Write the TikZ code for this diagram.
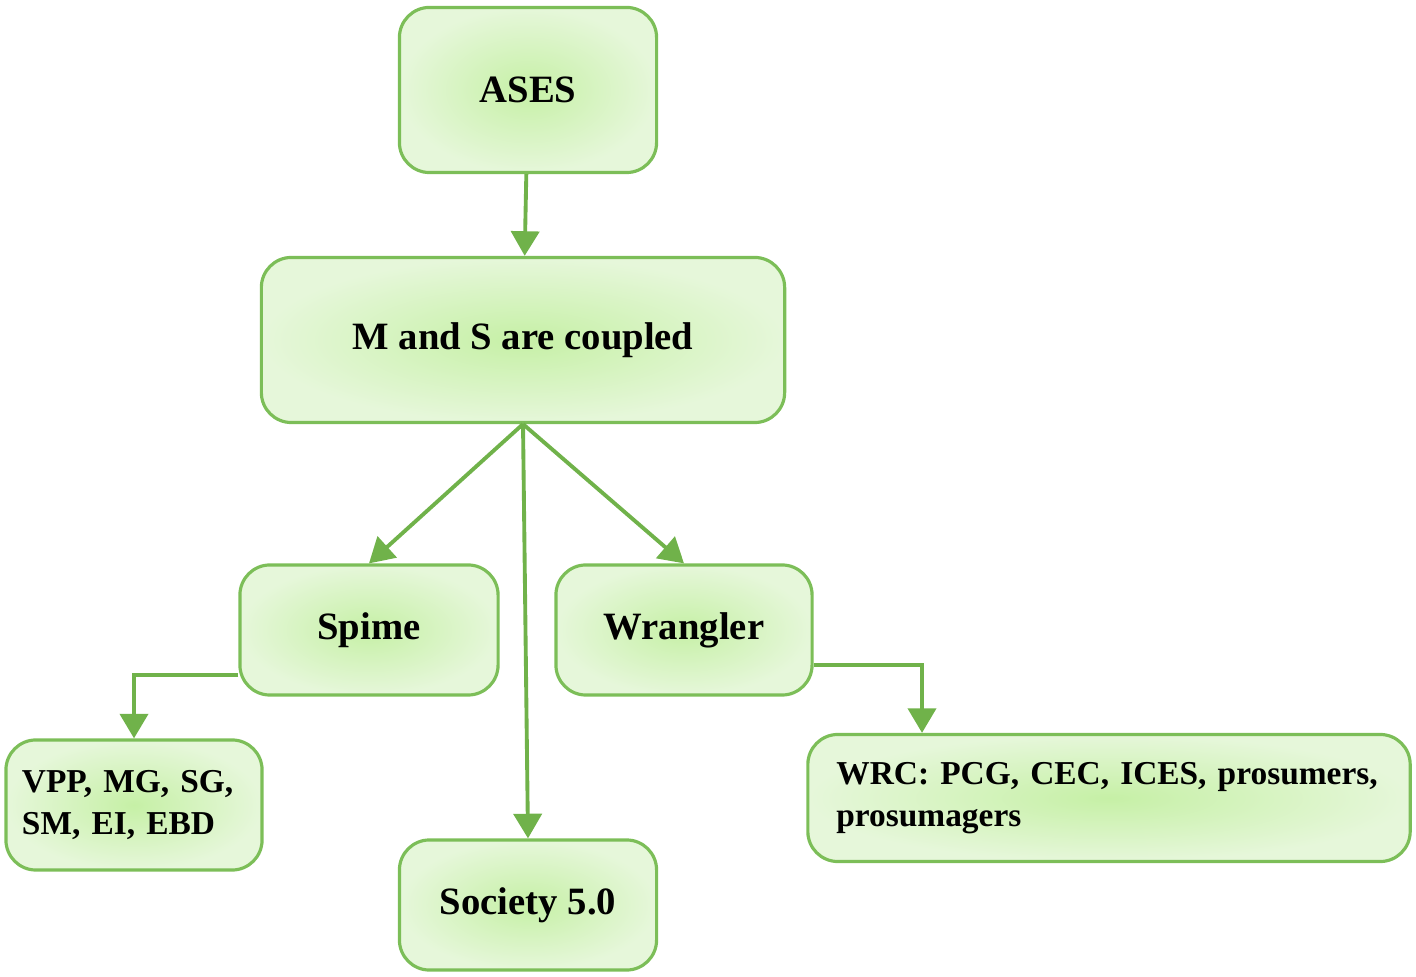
\documentclass[tikz,border=0pt]{standalone}
\usepackage{fontspec}
\setmainfont{Liberation Serif}
\usepackage{xcolor}
\definecolor{boxline}{RGB}{124,190,88}
\definecolor{boxin}{RGB}{198,240,166}
\definecolor{boxout}{RGB}{230,247,218}
\definecolor{arrowgreen}{RGB}{112,178,74}
\usetikzlibrary{positioning, arrows.meta, shapes.geometric}

\begin{document}
\begin{tikzpicture}[
  x=0.01cm, y=-0.01cm,
  box/.style={draw=boxline, line width=0.9pt, rounded corners=3mm,
              inner color=boxin, outer color=boxout,
              font=\fontsize{11}{14}\selectfont\bfseries, align=center},
  tall/.style={box, minimum width=2.57cm, minimum height=1.65cm},
  short/.style={box, minimum width=2.57cm, minimum height=1.3cm},
  small/.style={font=\fontsize{9.5}{12}\selectfont\bfseries, align=left},
  link/.style={draw=arrowgreen, line width=1.1pt,
               -{Triangle[width=8pt,length=7pt]}},
]
\useasboundingbox (0,0) rectangle (1416,977);

% Top levels
\node[tall] (ases) at (528,90) {ASES};
\node[tall, minimum width=5.23cm] (coupled) at (523,340) {M and S are coupled};

% Middle level
\node[short, minimum width=2.58cm] (spime) at (369,630) {Spime};
\node[short, minimum width=2.56cm] (wrangler) at (684,630) {Wrangler};

% Bottom level
\node[short, small, minimum width=2.56cm, text width=2.24cm] (grids) at (134,805)
  {VPP, MG, SG,\\SM, EI, EBD};
\node[short] (society) at (528,905) {Society 5.0};
\node[short, small, minimum width=6.02cm, minimum height=1.27cm, text width=5.45cm,
  inner xsep=0.285cm] (wrc) at (1109,798) {WRC: PCG, CEC, ICES, prosumers,\\prosumagers};

% Connectors
\draw[link] (ases) -- (coupled);
\draw[link] (coupled.south) -- (spime.north);
\draw[link] (coupled.south) -- (wrangler.north);
\draw[link] (coupled.south) -- (society.north);
\draw[link] (spime.west |- 0,675) -| (grids.north);
\draw[link] (wrangler.east |- 0,665) -| (wrc.north -| 922,0);
\end{tikzpicture}
\end{document}
